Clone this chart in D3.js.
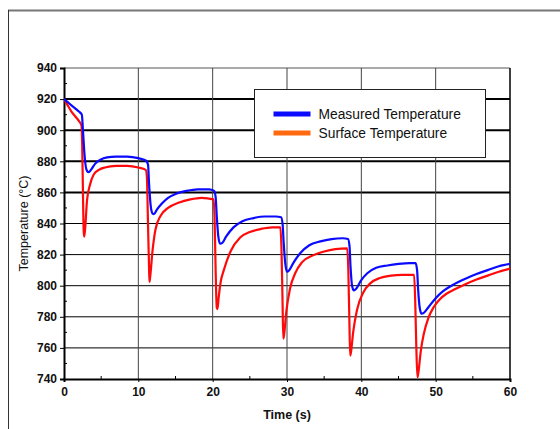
<!DOCTYPE html>
<html lang="en">
<head>
<meta charset="utf-8">
<title>Measured vs Surface Temperature</title>
<script src="https://cdn.jsdelivr.net/npm/d3@7/dist/d3.min.js"></script>
<style>
  body { margin: 0; background: #fff; }
  text { font-family: "Liberation Sans", Arial, sans-serif; }
</style>
</head>
<body>
<script>
// ---- data ----
var yTicks = [740, 760, 780, 800, 820, 840, 860, 880, 900, 920, 940];
var xTicks = [0, 10, 20, 30, 40, 50, 60];
var seriesNames = ["Measured Temperature", "Surface Temperature"];

var measuredTime = [0,0.5,1,1.5,2,2.4,2.55,2.75,3.0,3.3,3.7,4.2,4.9,5.8,7,8.5,10,11,
  11.3,11.45,11.65,11.9,12.1,12.5,13.2,14,15,16.5,18,19.5,20.2,
  20.4,20.55,20.75,21.0,21.3,21.8,22.8,24,25.5,27,28.5,29.2,
  29.4,29.55,29.75,30.0,30.3,30.9,31.8,33,34.5,36,37.5,38.2,
  38.4,38.55,38.75,39.0,39.3,39.9,40.8,42,43.5,45,46.5,47.3,
  47.5,47.65,47.85,48.1,48.4,49,50,51,52.5,54,55.5,57,58.5,60];
var measuredTemp = [920,918,916,914,912,910,900,885,875,873,875,878.5,881,882.5,883,883,882,880.5,
  878,865,852,846.5,846,849,853,856.5,859,861,862,862,861,
  857,845,832,827,827.5,831.5,837.5,841.5,843.5,844.5,844.5,844,
  840,828,815,809,810,815,821,826,828.5,830,830.5,830,
  826,812,800,797,798,803,808,811.5,813,814,814.5,814.5,
  810,797,786,782,782.5,786,792,796.5,801,804.5,807.5,810,812.5,814];

var surfaceTime = [0,0.5,1,1.5,2,2.35,2.45,2.55,2.65,2.72,2.85,3.1,3.5,4,4.7,5.5,7,8.5,10,11,
  11.15,11.3,11.45,11.5,11.6,11.9,12.3,13,14,15.5,17,18.5,20.1,
  20.25,20.4,20.55,20.65,20.8,21.1,21.5,22.4,23.7,25,26.5,28,29.1,
  29.25,29.4,29.5,29.6,29.9,30.4,31.1,32,33.5,35,36.5,38.1,
  38.25,38.4,38.5,38.6,38.9,39.4,40.3,41.2,42.5,44,45.5,47.1,
  47.25,47.4,47.55,47.7,48,48.4,49,49.7,50.5,51.5,52.5,54,55.5,57,58.5,60];
var surfaceTemp = [920,916,912,909,906,903,890,860,835,831.5,837,855,865,871.5,874.5,876,877,877,876,874.5,
  870,840,810,802.5,806,822,836,845,850,853.5,855.5,856.5,855.5,
  845,810,786,785,792,803,810,822,831,834.5,836.5,837.5,837.5,
  825,790,766,768,783,798,808,815,819.5,822,823.5,824,
  810,775,755,757,770,784,796,801.5,805,806.5,807,807,
  790,760,741,745,758,769,779,786,791,795,797.5,801,804,806.5,809,811];

// ---- layout ----
var W = 560, H = 429;
var margin = {top: 68, right: 50, bottom: 50, left: 64};
var w = W - margin.left - margin.right;   // 446
var h = H - margin.top - margin.bottom;   // 311

var svg = d3.select("body").append("svg")
  .attr("width", W).attr("height", H);

// outer frame (only top and left edges visible)
svg.append("line").attr("x1", 8).attr("x2", W).attr("y1", 10.5).attr("y2", 10.5)
  .attr("stroke", "#777").attr("stroke-width", 2);
svg.append("line").attr("x1", 8.5).attr("x2", 8.5).attr("y1", 10).attr("y2", H)
  .attr("stroke", "#333").attr("stroke-width", 1);

var g = svg.append("g").attr("transform", "translate(" + margin.left + "," + margin.top + ")");

var x = d3.scaleLinear().domain([0, 60]).range([0, w]);
var y = d3.scaleLinear().domain([740, 940]).range([h, 0]);

// gridlines
g.selectAll(".hgrid").data(yTicks.filter(function(d) { return d > 740; }))
  .enter().append("line")
  .attr("x1", 0).attr("x2", w)
  .attr("y1", function(d) { return y(d); }).attr("y2", function(d) { return y(d); })
  .attr("stroke", function(d) { return d === 940 ? "#555" : "#000"; })
  .attr("stroke-width", function(d) { return (d >= 860 && d <= 920) ? 2 : 1; });

g.selectAll(".vgrid").data(xTicks.filter(function(d) { return d > 0; }))
  .enter().append("line")
  .attr("x1", function(d) { return x(d); }).attr("x2", function(d) { return x(d); })
  .attr("y1", 0).attr("y2", h)
  .attr("stroke", function(d) { return d === 60 ? "#000" : "#444"; })
  .attr("stroke-width", function(d) { return d === 60 ? 1.5 : 1; });

// minor ticks
g.selectAll(".ymin").data(d3.range(750, 940, 20))
  .enter().append("line")
  .attr("x1", 0).attr("x2", 3)
  .attr("y1", function(d) { return y(d); }).attr("y2", function(d) { return y(d); })
  .attr("stroke", "#000");
g.selectAll(".xmin").data(d3.range(5, 60, 10))
  .enter().append("line")
  .attr("x1", function(d) { return x(d); }).attr("x2", function(d) { return x(d); })
  .attr("y1", h).attr("y2", h - 3)
  .attr("stroke", "#000");

// axes
var yAxis = d3.axisLeft(y).tickValues(yTicks).tickSize(4).tickPadding(3);
var xAxis = d3.axisBottom(x).tickValues(xTicks).tickSize(3).tickPadding(5);

var ya = g.append("g").call(yAxis);
var xa = g.append("g").attr("transform", "translate(0," + h + ")").call(xAxis);
[ya, xa].forEach(function(a) {
  a.select(".domain").attr("stroke", "#000").attr("stroke-width", 2);
  a.selectAll(".tick line").attr("stroke", "#000");
  a.selectAll(".tick text")
    .attr("font-family", "'Liberation Sans', Arial, sans-serif")
    .attr("font-size", 12).attr("font-weight", "bold").attr("fill", "#111");
});

// clip
svg.append("defs").append("clipPath").attr("id", "plotclip")
  .append("rect").attr("x", 0).attr("y", -2).attr("width", w).attr("height", h + 2);

var line = d3.line()
  .x(function(d) { return x(d[0]); })
  .y(function(d) { return y(d[1]); })
  .curve(d3.curveMonotoneX);

var surface = d3.zip(surfaceTime, surfaceTemp);
var measured = d3.zip(measuredTime, measuredTemp);

var plot = g.append("g").attr("clip-path", "url(#plotclip)");
plot.append("path").datum(surface)
  .attr("d", line).attr("fill", "none")
  .attr("stroke", "#ff0a0a").attr("stroke-width", 2.2);
plot.append("path").datum(measured)
  .attr("d", line).attr("fill", "none")
  .attr("stroke", "#0a0aff").attr("stroke-width", 2.2);

// axis titles
svg.append("text")
  .attr("x", margin.left + x(30)).attr("y", 419)
  .attr("text-anchor", "middle")
  .attr("font-size", 12.5).attr("font-weight", "bold").attr("fill", "#111")
  .text("Time (s)");
svg.append("text")
  .attr("transform", "translate(28," + (margin.top + h / 2) + ") rotate(-90)")
  .attr("text-anchor", "middle")
  .attr("font-size", 12.5).attr("fill", "#111")
  .text("Temperature (\u00B0C)");

// legend
var lg = svg.append("g").attr("transform", "translate(254.5,89.5)");
lg.append("rect").attr("width", 231).attr("height", 68)
  .attr("fill", "#fff").attr("stroke", "#222").attr("stroke-width", 1);
var legendColors = ["#0a0aff", "#ff6a10"];
seriesNames.forEach(function(name, i) {
  var yy = 24.5 + i * 19;
  lg.append("line").attr("x1", 19).attr("x2", 56).attr("y1", yy).attr("y2", yy)
    .attr("stroke", legendColors[i]).attr("stroke-width", 5);
  lg.append("text").attr("x", 64).attr("y", yy + 5)
    .attr("font-size", 13.8).attr("fill", "#111").text(name);
});
</script>
</body>
</html>
